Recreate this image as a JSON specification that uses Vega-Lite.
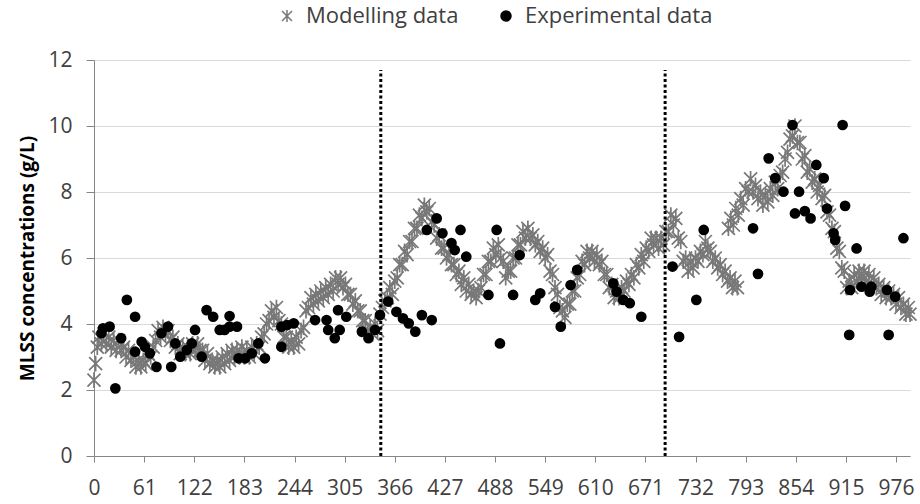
{
"$schema": "https://vega.github.io/schema/vega-lite/v6.json",
"width": 816, "height": 396,
"autosize": "none",
"padding": {"left": 94, "top": 60, "right": 10, "bottom": 48},
"background": "white",
"config": {"view": {"stroke": null}, "font": "Open Sans"},
"datasets": {
"model": [
{"day":0,"mlss":2.3},{"day":2,"mlss":2.8},{"day":4,"mlss":3.3},{"day":6,"mlss":3.6},{"day":9,"mlss":3.4},{"day":12,"mlss":3.7},{"day":15,"mlss":3.4},{"day":18,"mlss":3.6},{"day":21,"mlss":3.3},{"day":24,"mlss":3.5},{"day":27,"mlss":3.2},{"day":30,"mlss":3.5},{"day":33,"mlss":3.2},{"day":36,"mlss":3.3},{"day":39,"mlss":3.0},{"day":42,"mlss":3.2},{"day":45,"mlss":2.9},{"day":48,"mlss":3.0},{"day":51,"mlss":2.7},{"day":54,"mlss":2.9},{"day":57,"mlss":2.7},{"day":60,"mlss":2.9},{"day":63,"mlss":2.8},{"day":66,"mlss":3.1},{"day":69,"mlss":3.0},{"day":72,"mlss":3.3},{"day":75,"mlss":3.5},{"day":78,"mlss":3.8},{"day":81,"mlss":3.6},{"day":84,"mlss":3.9},{"day":87,"mlss":3.7},{"day":90,"mlss":3.8},{"day":93,"mlss":3.5},{"day":96,"mlss":3.6},{"day":99,"mlss":3.3},{"day":102,"mlss":3.4},{"day":105,"mlss":3.1},{"day":108,"mlss":3.3},{"day":111,"mlss":3.1},{"day":114,"mlss":3.3},{"day":117,"mlss":3.1},{"day":120,"mlss":3.4},{"day":123,"mlss":3.2},{"day":126,"mlss":3.4},{"day":129,"mlss":3.2},{"day":132,"mlss":3.2},{"day":135,"mlss":2.9},{"day":138,"mlss":3.1},{"day":141,"mlss":2.8},{"day":144,"mlss":2.9},{"day":147,"mlss":2.7},{"day":150,"mlss":2.9},{"day":153,"mlss":2.7},{"day":156,"mlss":3.0},{"day":159,"mlss":2.8},{"day":162,"mlss":3.1},{"day":165,"mlss":2.9},{"day":168,"mlss":3.2},{"day":171,"mlss":3.0},{"day":174,"mlss":3.2},{"day":177,"mlss":3.0},{"day":180,"mlss":3.3},{"day":183,"mlss":3.0},{"day":186,"mlss":3.2},{"day":189,"mlss":3.0},{"day":192,"mlss":3.3},{"day":195,"mlss":3.1},{"day":198,"mlss":3.4},{"day":201,"mlss":3.3},{"day":204,"mlss":3.6},{"day":207,"mlss":3.7},{"day":210,"mlss":4.0},{"day":213,"mlss":4.1},{"day":216,"mlss":4.4},{"day":219,"mlss":4.2},{"day":222,"mlss":4.5},{"day":225,"mlss":4.1},{"day":228,"mlss":4.0},{"day":231,"mlss":3.6},{"day":234,"mlss":3.6},{"day":237,"mlss":3.3},{"day":240,"mlss":3.5},{"day":243,"mlss":3.3},{"day":246,"mlss":3.6},{"day":249,"mlss":3.4},{"day":252,"mlss":3.8},{"day":255,"mlss":3.9},{"day":258,"mlss":4.4},{"day":261,"mlss":4.5},{"day":264,"mlss":4.8},{"day":267,"mlss":4.6},{"day":270,"mlss":4.9},{"day":273,"mlss":4.7},{"day":276,"mlss":5.0},{"day":279,"mlss":4.8},{"day":282,"mlss":5.1},{"day":285,"mlss":4.9},{"day":288,"mlss":5.2},{"day":291,"mlss":5.0},{"day":294,"mlss":5.4},{"day":297,"mlss":5.2},{"day":300,"mlss":5.4},{"day":303,"mlss":5.1},{"day":306,"mlss":5.2},{"day":309,"mlss":4.9},{"day":312,"mlss":4.9},{"day":315,"mlss":4.6},{"day":318,"mlss":4.7},{"day":321,"mlss":4.4},{"day":324,"mlss":4.4},{"day":327,"mlss":4.1},{"day":330,"mlss":4.1},{"day":333,"mlss":3.8},{"day":336,"mlss":3.9},{"day":339,"mlss":3.7},{"day":342,"mlss":4.0},{"day":345,"mlss":3.8},{"day":348,"mlss":4.3},{"day":351,"mlss":4.5},{"day":354,"mlss":4.7},{"day":357,"mlss":4.8},{"day":360,"mlss":5.1},{"day":363,"mlss":4.9},{"day":366,"mlss":5.3},{"day":369,"mlss":5.4},{"day":372,"mlss":5.8},{"day":375,"mlss":5.8},{"day":378,"mlss":6.2},{"day":381,"mlss":6.1},{"day":384,"mlss":6.5},{"day":387,"mlss":6.5},{"day":390,"mlss":6.9},{"day":393,"mlss":6.9},{"day":396,"mlss":7.3},{"day":399,"mlss":7.2},{"day":402,"mlss":7.6},{"day":405,"mlss":7.4},{"day":408,"mlss":7.5},{"day":411,"mlss":7.1},{"day":414,"mlss":7.0},{"day":417,"mlss":6.6},{"day":420,"mlss":6.7},{"day":423,"mlss":6.3},{"day":426,"mlss":6.3},{"day":429,"mlss":6.0},{"day":432,"mlss":6.1},{"day":435,"mlss":5.8},{"day":438,"mlss":5.8},{"day":441,"mlss":5.5},{"day":444,"mlss":5.6},{"day":447,"mlss":5.2},{"day":450,"mlss":5.4},{"day":453,"mlss":5.0},{"day":456,"mlss":5.2},{"day":459,"mlss":4.9},{"day":462,"mlss":5.0},{"day":465,"mlss":4.8},{"day":468,"mlss":5.0},{"day":471,"mlss":5.1},{"day":474,"mlss":5.5},{"day":477,"mlss":5.5},{"day":480,"mlss":5.9},{"day":483,"mlss":5.9},{"day":486,"mlss":6.3},{"day":489,"mlss":6.1},{"day":492,"mlss":6.4},{"day":495,"mlss":6.0},{"day":498,"mlss":5.9},{"day":501,"mlss":5.4},{"day":504,"mlss":5.6},{"day":507,"mlss":5.6},{"day":510,"mlss":6.0},{"day":513,"mlss":6.0},{"day":516,"mlss":6.4},{"day":519,"mlss":6.4},{"day":522,"mlss":6.8},{"day":525,"mlss":6.6},{"day":528,"mlss":6.9},{"day":531,"mlss":6.6},{"day":534,"mlss":6.7},{"day":537,"mlss":6.4},{"day":540,"mlss":6.5},{"day":543,"mlss":6.2},{"day":546,"mlss":6.3},{"day":549,"mlss":6.0},{"day":552,"mlss":6.1},{"day":555,"mlss":5.6},{"day":558,"mlss":5.5},{"day":561,"mlss":5.1},{"day":564,"mlss":4.9},{"day":567,"mlss":4.5},{"day":570,"mlss":4.4},{"day":573,"mlss":4.2},{"day":576,"mlss":4.6},{"day":579,"mlss":4.6},{"day":582,"mlss":5.0},{"day":585,"mlss":5.0},{"day":588,"mlss":5.4},{"day":591,"mlss":5.5},{"day":594,"mlss":5.9},{"day":597,"mlss":5.8},{"day":600,"mlss":6.2},{"day":603,"mlss":6.0},{"day":606,"mlss":6.2},{"day":609,"mlss":5.9},{"day":612,"mlss":6.1},{"day":615,"mlss":5.8},{"day":618,"mlss":5.9},{"day":621,"mlss":5.5},{"day":624,"mlss":5.5},{"day":627,"mlss":5.1},{"day":630,"mlss":5.2},{"day":633,"mlss":4.8},{"day":636,"mlss":5.0},{"day":639,"mlss":4.8},{"day":642,"mlss":5.1},{"day":645,"mlss":5.0},{"day":648,"mlss":5.3},{"day":651,"mlss":5.2},{"day":654,"mlss":5.5},{"day":657,"mlss":5.4},{"day":660,"mlss":5.8},{"day":663,"mlss":5.7},{"day":666,"mlss":6.1},{"day":669,"mlss":5.9},{"day":672,"mlss":6.3},{"day":675,"mlss":6.2},{"day":678,"mlss":6.6},{"day":681,"mlss":6.4},{"day":684,"mlss":6.6},{"day":687,"mlss":6.3},{"day":690,"mlss":6.6},{"day":693,"mlss":6.4},{"day":696,"mlss":6.8},{"day":699,"mlss":6.8},{"day":702,"mlss":7.3},{"day":705,"mlss":7.0},{"day":708,"mlss":7.2},{"day":711,"mlss":6.6},{"day":714,"mlss":6.5},{"day":717,"mlss":5.9},{"day":720,"mlss":6.0},{"day":723,"mlss":5.6},{"day":726,"mlss":5.9},{"day":729,"mlss":5.7},{"day":732,"mlss":6.0},{"day":735,"mlss":5.9},{"day":738,"mlss":6.2},{"day":741,"mlss":6.1},{"day":744,"mlss":6.5},{"day":747,"mlss":6.3},{"day":750,"mlss":6.2},{"day":753,"mlss":5.9},{"day":756,"mlss":6.0},{"day":759,"mlss":5.7},{"day":762,"mlss":5.8},{"day":765,"mlss":5.5},{"day":768,"mlss":5.6},{"day":771,"mlss":5.3},{"day":774,"mlss":5.4},{"day":777,"mlss":5.1},{"day":780,"mlss":5.3},{"day":783,"mlss":5.1},
{"day":772,"mlss":6.9},{"day":775,"mlss":7.2},{"day":778,"mlss":7.0},{"day":781,"mlss":7.5},{"day":784,"mlss":7.3},{"day":787,"mlss":7.8},{"day":790,"mlss":7.6},{"day":793,"mlss":8.1},{"day":796,"mlss":8.0},{"day":799,"mlss":8.4},{"day":802,"mlss":8.0},{"day":805,"mlss":8.2},{"day":808,"mlss":7.8},{"day":811,"mlss":8.0},{"day":814,"mlss":7.6},{"day":817,"mlss":7.9},{"day":820,"mlss":7.7},{"day":823,"mlss":8.1},{"day":826,"mlss":7.9},{"day":829,"mlss":8.3},{"day":832,"mlss":8.1},{"day":835,"mlss":8.5},{"day":838,"mlss":8.6},{"day":841,"mlss":9.0},{"day":844,"mlss":9.2},{"day":847,"mlss":9.6},{"day":850,"mlss":9.7},{"day":853,"mlss":10.0},{"day":856,"mlss":9.5},{"day":859,"mlss":9.5},{"day":862,"mlss":9.0},{"day":865,"mlss":9.1},{"day":868,"mlss":8.6},{"day":871,"mlss":8.7},{"day":874,"mlss":8.3},{"day":877,"mlss":8.4},{"day":880,"mlss":8.0},{"day":883,"mlss":8.2},{"day":886,"mlss":7.8},{"day":889,"mlss":7.9},{"day":892,"mlss":7.4},{"day":895,"mlss":7.3},{"day":898,"mlss":6.9},{"day":901,"mlss":6.8},{"day":904,"mlss":6.3},{"day":907,"mlss":6.2},{"day":910,"mlss":5.7},{"day":913,"mlss":5.6},{"day":916,"mlss":5.1},{"day":919,"mlss":5.3},{"day":922,"mlss":5.1},{"day":925,"mlss":5.5},{"day":928,"mlss":5.3},{"day":931,"mlss":5.6},{"day":934,"mlss":5.4},{"day":937,"mlss":5.6},{"day":940,"mlss":5.3},{"day":943,"mlss":5.5},{"day":946,"mlss":5.2},{"day":949,"mlss":5.4},{"day":952,"mlss":5.1},{"day":955,"mlss":5.2},{"day":958,"mlss":4.9},{"day":961,"mlss":5.1},{"day":964,"mlss":4.8},{"day":967,"mlss":5.0},{"day":970,"mlss":4.8},{"day":973,"mlss":4.9},{"day":976,"mlss":4.6},{"day":979,"mlss":4.8},{"day":982,"mlss":4.5},{"day":985,"mlss":4.6},{"day":988,"mlss":4.3},{"day":991,"mlss":4.5},{"day":993,"mlss":4.3}
],
"exp": [
{"day":9,"mlss":3.72},{"day":11,"mlss":3.87},{"day":19,"mlss":3.92},{"day":26,"mlss":2.05},{"day":33,"mlss":3.57},{"day":40,"mlss":4.73},{"day":50,"mlss":4.22},{"day":50,"mlss":3.16},{"day":58,"mlss":3.46},{"day":62,"mlss":3.31},{"day":68,"mlss":3.11},{"day":76,"mlss":2.7},{"day":82,"mlss":3.72},{"day":90,"mlss":3.92},{"day":94,"mlss":2.7},{"day":99,"mlss":3.41},{"day":105,"mlss":3.01},{"day":113,"mlss":3.21},{"day":119,"mlss":3.41},{"day":123,"mlss":3.82},{"day":131,"mlss":3.01},{"day":137,"mlss":4.42},{"day":145,"mlss":4.22},{"day":153,"mlss":3.82},{"day":159,"mlss":3.82},{"day":165,"mlss":4.24},{"day":165,"mlss":3.92},{"day":174,"mlss":3.92},{"day":176,"mlss":2.96},{"day":184,"mlss":2.96},{"day":192,"mlss":3.11},{"day":200,"mlss":3.41},{"day":208,"mlss":2.96},{"day":228,"mlss":3.31},{"day":228,"mlss":3.92},{"day":235,"mlss":3.97},{"day":243,"mlss":4.02},{"day":269,"mlss":4.12},{"day":283,"mlss":4.12},{"day":285,"mlss":3.82},{"day":293,"mlss":3.57},{"day":297,"mlss":4.42},{"day":299,"mlss":3.82},{"day":307,"mlss":4.22},{"day":326,"mlss":3.77},{"day":334,"mlss":3.57},{"day":342,"mlss":3.82},{"day":348,"mlss":4.27},{"day":358,"mlss":4.68},{"day":368,"mlss":4.37},{"day":376,"mlss":4.17},{"day":383,"mlss":4.02},{"day":391,"mlss":3.77},{"day":399,"mlss":4.27},{"day":411,"mlss":4.12},{"day":405,"mlss":6.85},{"day":417,"mlss":7.2},{"day":424,"mlss":6.75},{"day":435,"mlss":6.45},{"day":439,"mlss":6.24},{"day":446,"mlss":6.85},{"day":453,"mlss":6.04},{"day":480,"mlss":4.88},{"day":490,"mlss":6.85},{"day":494,"mlss":3.41},{"day":510,"mlss":4.88},{"day":518,"mlss":6.09},{"day":537,"mlss":4.73},{"day":543,"mlss":4.93},{"day":561,"mlss":4.52},{"day":568,"mlss":3.92},{"day":580,"mlss":5.18},{"day":588,"mlss":5.64},{"day":632,"mlss":5.23},{"day":636,"mlss":4.98},{"day":644,"mlss":4.73},{"day":652,"mlss":4.63},{"day":666,"mlss":4.22},{"day":704,"mlss":5.74},{"day":712,"mlss":3.61},{"day":733,"mlss":4.73},{"day":742,"mlss":6.85},{"day":802,"mlss":6.9},{"day":808,"mlss":5.52},{"day":821,"mlss":9.02},{"day":829,"mlss":8.42},{"day":839,"mlss":8.01},{"day":850,"mlss":10.03},{"day":853,"mlss":7.35},{"day":858,"mlss":8.01},{"day":865,"mlss":7.42},{"day":872,"mlss":7.2},{"day":879,"mlss":8.82},{"day":888,"mlss":8.42},{"day":892,"mlss":7.5},{"day":900,"mlss":6.75},{"day":902,"mlss":6.55},{"day":911,"mlss":10.03},{"day":914,"mlss":7.58},{"day":919,"mlss":3.67},{"day":920,"mlss":5.03},{"day":928,"mlss":6.29},{"day":934,"mlss":5.13},{"day":944,"mlss":4.98},{"day":946,"mlss":5.13},{"day":965,"mlss":5.03},{"day":967,"mlss":3.67},{"day":975,"mlss":4.83},{"day":985,"mlss":6.6}
],
"phase": [{"day":349,"lo":0,"hi":11.7},{"day":695,"lo":0,"hi":11.7}]
},
"layer": [
{
"data": {"name": "model"},
"mark": {"type": "point", "filled": false, "strokeWidth": 1.7, "size": 170, "opacity": 1},
"encoding": {
"x": {"field": "day", "type": "quantitative", "scale": {"domain": [0, 993], "nice": false, "zero": true},
 "axis": {"values": [0,61,122,183,244,305,366,427,488,549,610,671,732,793,854,915,976], "title": null, "grid": false,
  "domainColor": "#868686", "tickColor": "#868686", "tickSize": 6, "labelFontSize": 21, "labelColor": "#404040",
  "labelPadding": 15, "labelFlush": false, "labelOverlap": false, "labelFont": "Open Sans"}},
"y": {"field": "mlss", "type": "quantitative", "scale": {"domain": [0, 12], "nice": false},
 "axis": {"values": [0,2,4,6,8,10,12], "title": "MLSS concentrations (g/L)", "grid": true, "gridColor": "#d9d9d9",
  "domainColor": "#868686", "tickColor": "#868686", "tickSize": 8, "labelFontSize": 21, "labelColor": "#404040",
  "labelPadding": 14, "labelFont": "Open Sans", "titleFont": "Open Sans", "titleFontSize": 19, "titleFontWeight": "bold",
  "titleColor": "#000000", "titlePadding": 10}},
"color": {"datum": "Modelling data", "type": "nominal",
 "scale": {"domain": ["Modelling data", "Experimental data"], "range": ["#787878", "#000000"]},
 "legend": {"orient": "none", "direction": "horizontal", "legendX": 182, "legendY": -55, "title": null,
  "labelFontSize": 22, "labelColor": "#404040", "labelFont": "Open Sans", "labelLimit": 400, "symbolSize": 100, "columnPadding": 36,
  "labelOffset": 8, "symbolStrokeWidth": 1.5,
  "encode": {"symbols": {"update": {"fill": {"signal": "datum.value === 'Experimental data' ? '#000000' : 'transparent'"}}}}}},
"shape": {"datum": "Modelling data", "type": "nominal",
 "scale": {"domain": ["Modelling data", "Experimental data"], "range": ["M-1,-1L1,1M-1,1L1,-1M0,-1.2L0,1.2", "circle"]}}
}
},
{
"data": {"name": "phase"},
"mark": {"type": "rule", "color": "#000000", "strokeWidth": 3, "strokeDash": [3, 2.5]},
"encoding": {
"x": {"field": "day", "type": "quantitative"},
"y": {"field": "lo", "type": "quantitative"},
"y2": {"field": "hi"}
}
},
{
"data": {"name": "exp"},
"mark": {"type": "point", "filled": true, "size": 115, "opacity": 1},
"encoding": {
"x": {"field": "day", "type": "quantitative"},
"y": {"field": "mlss", "type": "quantitative"},
"color": {"datum": "Experimental data", "type": "nominal"},
"shape": {"datum": "Experimental data", "type": "nominal"}
}
}
]
}
